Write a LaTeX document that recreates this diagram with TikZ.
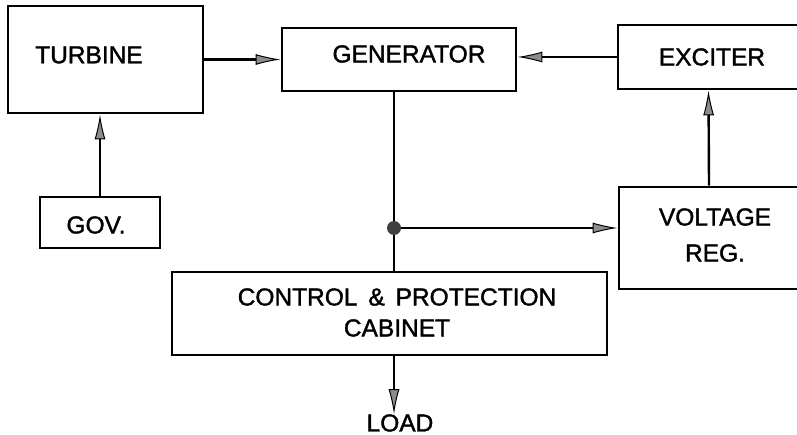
\documentclass[tikz,border=0pt]{standalone}
\usepackage{fontspec}
\setmainfont{Liberation Sans}[FakeBold=1.5]
\usetikzlibrary{arrows.meta,calc}
\begin{document}
\begin{tikzpicture}[x=1pt,y=-1pt,
  blk/.style={draw=black,line width=2.9pt,minimum width=#1,inner sep=0pt},
  lbl/.style={font=\fontsize{24.5}{31}\selectfont,align=center,inner sep=0pt},
  conn/.style={line width=2.4pt,-{Latex[length=25pt,width=11pt,line width=1pt,fill=black!45]}},
  wire/.style={line width=2.4pt}]
\fill[white] (0,0) rectangle (797,435);
\clip (0,0) rectangle (797,435);
% boxes
\node[blk=195pt,minimum height=107pt] (turb) at (105.5,59.5) {};
\node[blk=234pt,minimum height=63pt] (gen) at (399,59.5) {};
\node[blk=202pt,minimum height=64pt] (exc) at (719,57) {};
\node[blk=120pt,minimum height=51pt] (gov) at (100,222.5) {};
\node[blk=201pt,minimum height=102pt] (vreg) at (719.5,238) {};
\node[blk=435pt,minimum height=83pt] (ctrl) at (389.5,313.5) {};
% texts
\node[lbl] (tturb) at (89,55) {TURBINE};
\node[lbl] (tgen) at (409,54) {GENERATOR};
\node[lbl] (texc) at (712,57) {EXCITER};
\node[lbl] (tgov) at (96,225) {GOV.};
\node[lbl,font=\fontsize{24.5}{36}\selectfont] (tvreg) at (715,235) {VOLTAGE\\REG.};
\node[lbl] (tctrl) at (397,312.5) {CONTROL \,\&\, PROTECTION\\CABINET};
\node[lbl] (load) at (400,423) {LOAD};
% junction
\coordinate (dot) at (394,228);
% connectors
\draw[conn] (turb.east) -- (gen.west);
\draw[conn] (exc.west) -- (exc.west -| gen.east);
\draw[conn] (gov.north) -- (gov.north |- turb.south);
\draw[wire] (dot |- gen.south) -- (dot |- ctrl.north);
\draw[conn] (dot) -- (dot -| vreg.west);
\draw[conn] ([xshift=-10.5pt]vreg.north) -- ([xshift=-10.5pt]exc.south);
\draw[conn] (dot |- ctrl.south) -- (dot |- load.north);
\fill[black!75] (dot) circle (7pt);
\end{tikzpicture}
\end{document}
